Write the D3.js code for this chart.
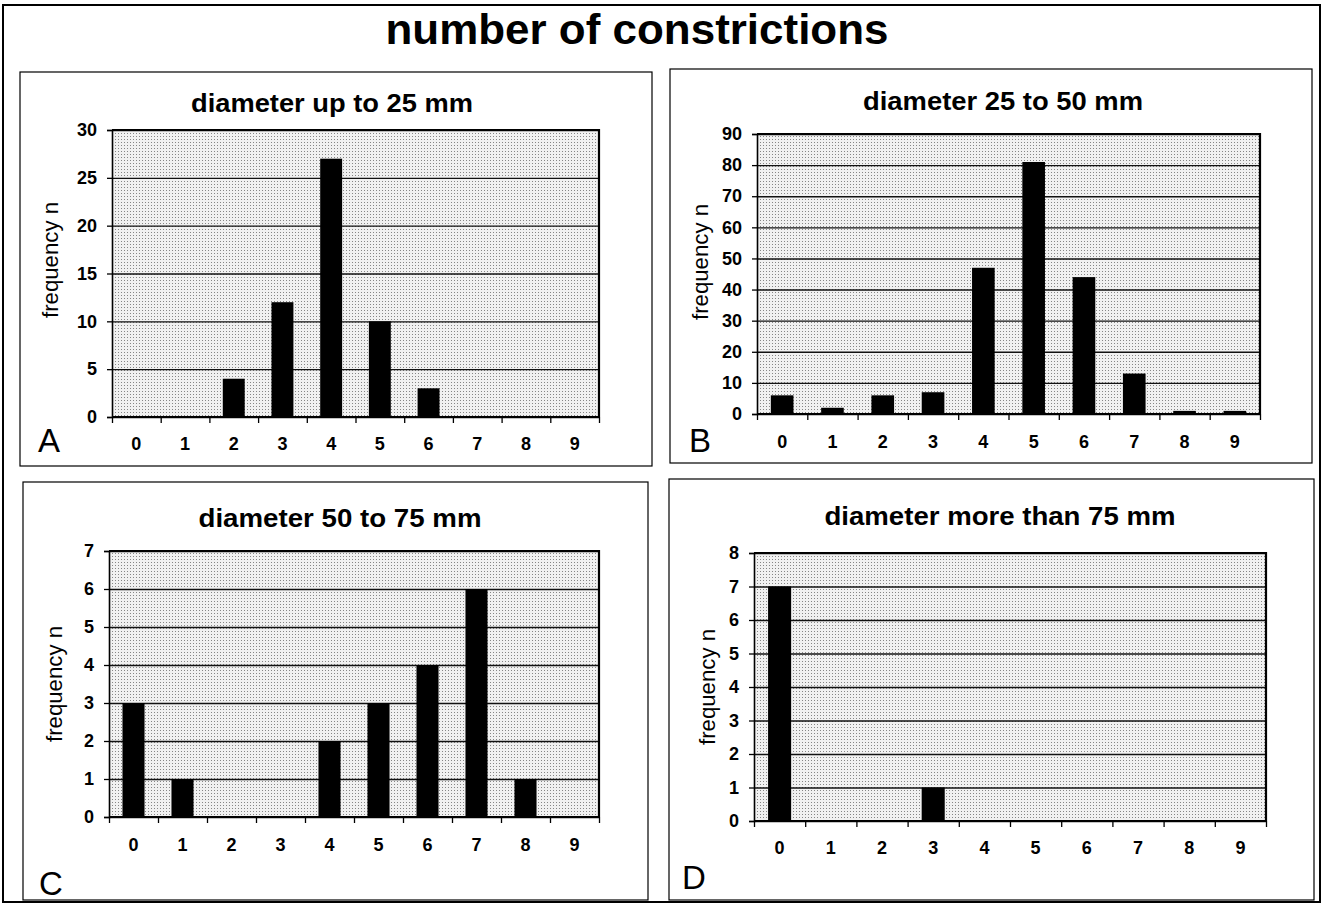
<!DOCTYPE html>
<html>
<head>
<meta charset="utf-8">
<script src="https://cdn.jsdelivr.net/npm/d3@7"></script>
<style>
  html, body { margin: 0; padding: 0; background: #fff; }
  svg { display: block; }
  text { font-family: "Liberation Sans", Arial, sans-serif; fill: #000; }
</style>
</head>
<body>
<svg id="chart" width="1324" height="905"></svg>
<script>
// ---------------- DATA ----------------
const mainTitle = "number of constrictions";
const categories = ["0", "1", "2", "3", "4", "5", "6", "7", "8", "9"];
const valuesA = [0, 0, 4, 12, 27, 10, 3, 0, 0, 0];
const valuesB = [6, 2, 6, 7, 47, 81, 44, 13, 1, 1];
const valuesC = [3, 1, 0, 0, 2, 3, 4, 6, 1, 0];
const valuesD = [7, 0, 0, 1, 0, 0, 0, 0, 0, 0];
const panelTitles = ["diameter up to 25 mm", "diameter 25 to 50 mm", "diameter 50 to 75 mm", "diameter more than 75 mm"];
const panelLetters = ["A", "B", "C", "D"];
const yMaxima = [30, 90, 7, 8];
const yTickSteps = [5, 10, 1, 1];
const yAxisLabel = "frequency n";

// ---------------- LAYOUT ----------------
const layouts = [
  { box: [20, 72, 632, 394], plot: [112, 599, 130, 417], title: [332, 112, 282], xLab: 450, letter: [49, 452], yLab: [50, 260] },
  { box: [670, 69, 642, 394], plot: [757, 1260, 134, 414], title: [1003, 110, 280], xLab: 448, letter: [700, 452], yLab: [700, 262] },
  { box: [23, 482, 625, 418], plot: [109, 599, 551, 817], title: [340, 527, 283], xLab: 851, letter: [51, 895], yLab: [54, 684] },
  { box: [669, 479, 645, 421], plot: [754, 1266, 553, 821], title: [1000, 525, 351], xLab: 854, letter: [694, 889], yLab: [707, 687] }
];
const allValues = [valuesA, valuesB, valuesC, valuesD];

const svg = d3.select("#chart");

// dotted background pattern
const defs = svg.append("defs");
const pat = defs.append("pattern").attr("id", "dots")
  .attr("patternUnits", "userSpaceOnUse").attr("width", 3).attr("height", 3);
pat.append("rect").attr("width", 3).attr("height", 3).attr("fill", "#f1f1f1");
pat.append("rect").attr("x", 1).attr("y", 1).attr("width", 1).attr("height", 1).attr("fill", "#868686");

// outer frame
svg.append("rect").attr("x", 3).attr("y", 5).attr("width", 1317).attr("height", 897)
  .attr("fill", "none").attr("stroke", "#000").attr("stroke-width", 2);

svg.append("text").attr("x", 637).attr("y", 44).attr("text-anchor", "middle")
  .attr("font-size", 42).attr("font-weight", "bold")
  .attr("textLength", 503).attr("lengthAdjust", "spacingAndGlyphs")
  .text(mainTitle);

layouts.forEach((L, i) => {
  const vals = allValues[i];
  const g = svg.append("g");
  const [l, r, t, b] = L.plot;

  g.append("rect").attr("x", L.box[0]).attr("y", L.box[1]).attr("width", L.box[2]).attr("height", L.box[3])
    .attr("fill", "#fff").attr("stroke", "#000").attr("stroke-width", 1.2);

  g.append("text").attr("x", L.title[0]).attr("y", L.title[1]).attr("text-anchor", "middle")
    .attr("font-size", 25).attr("font-weight", "bold")
    .attr("textLength", L.title[2]).attr("lengthAdjust", "spacingAndGlyphs")
    .text(panelTitles[i]);

  const x = d3.scaleBand().domain(categories).range([l, r]).paddingInner(0.55).paddingOuter(0.275);
  const xEdge = d3.scaleLinear().domain([0, categories.length]).range([l, r]);
  const y = d3.scaleLinear().domain([0, yMaxima[i]]).range([b, t]);
  const yTicks = d3.range(0, yMaxima[i] + yTickSteps[i] / 2, yTickSteps[i]);

  // plot background
  g.append("rect").attr("x", l).attr("y", t).attr("width", r - l).attr("height", b - t).attr("fill", "url(#dots)");

  // gridlines
  const grid = g.append("g").attr("transform", `translate(${l},0)`)
    .call(d3.axisLeft(y).tickValues(yTicks).tickSize(-(r - l)).tickFormat(""));
  grid.select(".domain").remove();
  grid.selectAll("line").attr("stroke", "#111").attr("stroke-width", 1.4);

  // frame top & right
  g.append("path").attr("d", `M${l},${t}H${r}V${b}`).attr("fill", "none")
    .attr("stroke", "#000").attr("stroke-width", 2.2);

  // bars
  g.selectAll("rect.bar").data(vals.map((v, k) => ({ c: categories[k], v })).filter(d => d.v > 0))
    .join("rect").attr("class", "bar")
    .attr("x", d => x(d.c)).attr("width", x.bandwidth())
    .attr("y", d => y(d.v)).attr("height", d => y(0) - y(d.v))
    .attr("fill", "#000");

  // y axis
  const ya = g.append("g").attr("transform", `translate(${l},0)`)
    .call(d3.axisLeft(y).tickValues(yTicks).tickSize(5).tickPadding(10).tickFormat(d3.format("d")));
  ya.select(".domain").attr("stroke", "#000").attr("stroke-width", 1.6);
  ya.selectAll("line").attr("stroke", "#000").attr("stroke-width", 1.3);
  ya.selectAll("text").attr("font-size", 18).attr("font-weight", "bold")
    .attr("font-family", "'Liberation Sans', Arial, sans-serif").attr("fill", "#000");

  // x axis boundary ticks
  const xa = g.append("g").attr("transform", `translate(0,${b})`)
    .call(d3.axisBottom(xEdge).tickValues(d3.range(0, categories.length + 1)).tickSize(6).tickFormat(""));
  xa.select(".domain").attr("stroke", "#000").attr("stroke-width", 1.8).attr("d", `M${l},0H${r}`);
  xa.selectAll("line").attr("stroke", "#000").attr("stroke-width", 1.3);

  // x category labels
  const xl = g.append("g").attr("transform", `translate(0,${L.xLab})`)
    .call(d3.axisBottom(x).tickSize(0).tickPadding(0));
  xl.select(".domain").remove();
  xl.selectAll("text").attr("dy", 0).attr("font-size", 18).attr("font-weight", "bold")
    .attr("font-family", "'Liberation Sans', Arial, sans-serif").attr("fill", "#000");

  // y label
  g.append("text").attr("transform", `translate(${L.yLab[0]},${L.yLab[1]}) rotate(-90)`)
    .attr("text-anchor", "middle").attr("dy", "0.35em").attr("font-size", 22)
    .attr("textLength", 116).attr("lengthAdjust", "spacingAndGlyphs")
    .text(yAxisLabel);

  // panel letter
  g.append("text").attr("x", L.letter[0]).attr("y", L.letter[1]).attr("text-anchor", "middle")
    .attr("font-size", 33).text(panelLetters[i]);
});
</script>
</body>
</html>
